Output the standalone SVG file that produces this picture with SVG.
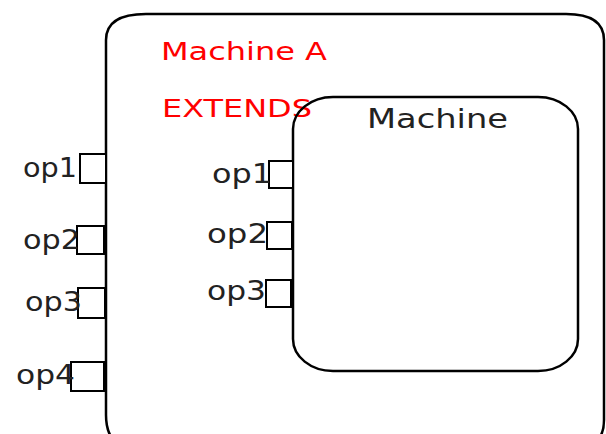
<svg xmlns="http://www.w3.org/2000/svg" width="606" height="434" viewBox="0 0 606 434">
<style>
.box{fill:#fff;stroke:#000;stroke-width:2.5}
.inner{fill:none;stroke:#000;stroke-width:2.5}
.port{fill:#fff;stroke:#000;stroke-width:2}
.lbl{font-family:"DejaVu Sans",sans-serif;font-size:26px;fill:#222}
.red{font-family:"DejaVu Sans",sans-serif;font-size:25px;fill:#ff0000}
</style>
<rect width="606" height="434" fill="#fff"/>
<g id="machineA">
<path class="box" d="M106,40 Q106,14 146,14 L566,14 Q604,14 604,40 L604,420 Q604,450 570,450 L140,450 Q106,450 106,415 Z"/>
<text class="red" x="161" y="60" textLength="166" lengthAdjust="spacingAndGlyphs">Machine A</text>
<text class="red" x="162" y="117" textLength="150" lengthAdjust="spacingAndGlyphs">EXTENDS</text>
</g>
<g id="machine">
<rect class="inner" x="293" y="97" width="285" height="274" rx="40" ry="32"/>
<text class="lbl" x="367" y="128" textLength="141" lengthAdjust="spacingAndGlyphs">Machine</text>
</g>
<g id="outer-op1"><rect class="port" x="80" y="154" width="26" height="29"/><text class="lbl" x="23" y="177" textLength="54" lengthAdjust="spacingAndGlyphs">op1</text></g>
<g id="outer-op2"><rect class="port" x="77" y="226" width="27" height="28"/><text class="lbl" x="23" y="249" textLength="57" lengthAdjust="spacingAndGlyphs">op2</text></g>
<g id="outer-op3"><rect class="port" x="78" y="288" width="27" height="30"/><text class="lbl" x="25" y="311" textLength="57" lengthAdjust="spacingAndGlyphs">op3</text></g>
<g id="outer-op4"><rect class="port" x="71" y="362" width="33" height="29"/><text class="lbl" x="16" y="384" textLength="59" lengthAdjust="spacingAndGlyphs">op4</text></g>
<g id="inner-op1"><rect class="port" x="269" y="161" width="24" height="27"/><text class="lbl" x="212" y="183" textLength="60" lengthAdjust="spacingAndGlyphs">op1</text></g>
<g id="inner-op2"><rect class="port" x="267" y="222" width="25" height="27"/><text class="lbl" x="207" y="243" textLength="61" lengthAdjust="spacingAndGlyphs">op2</text></g>
<g id="inner-op3"><rect class="port" x="266" y="280" width="25" height="27"/><text class="lbl" x="207" y="300" textLength="59" lengthAdjust="spacingAndGlyphs">op3</text></g>
<g id="connectors"></g>
</svg>
